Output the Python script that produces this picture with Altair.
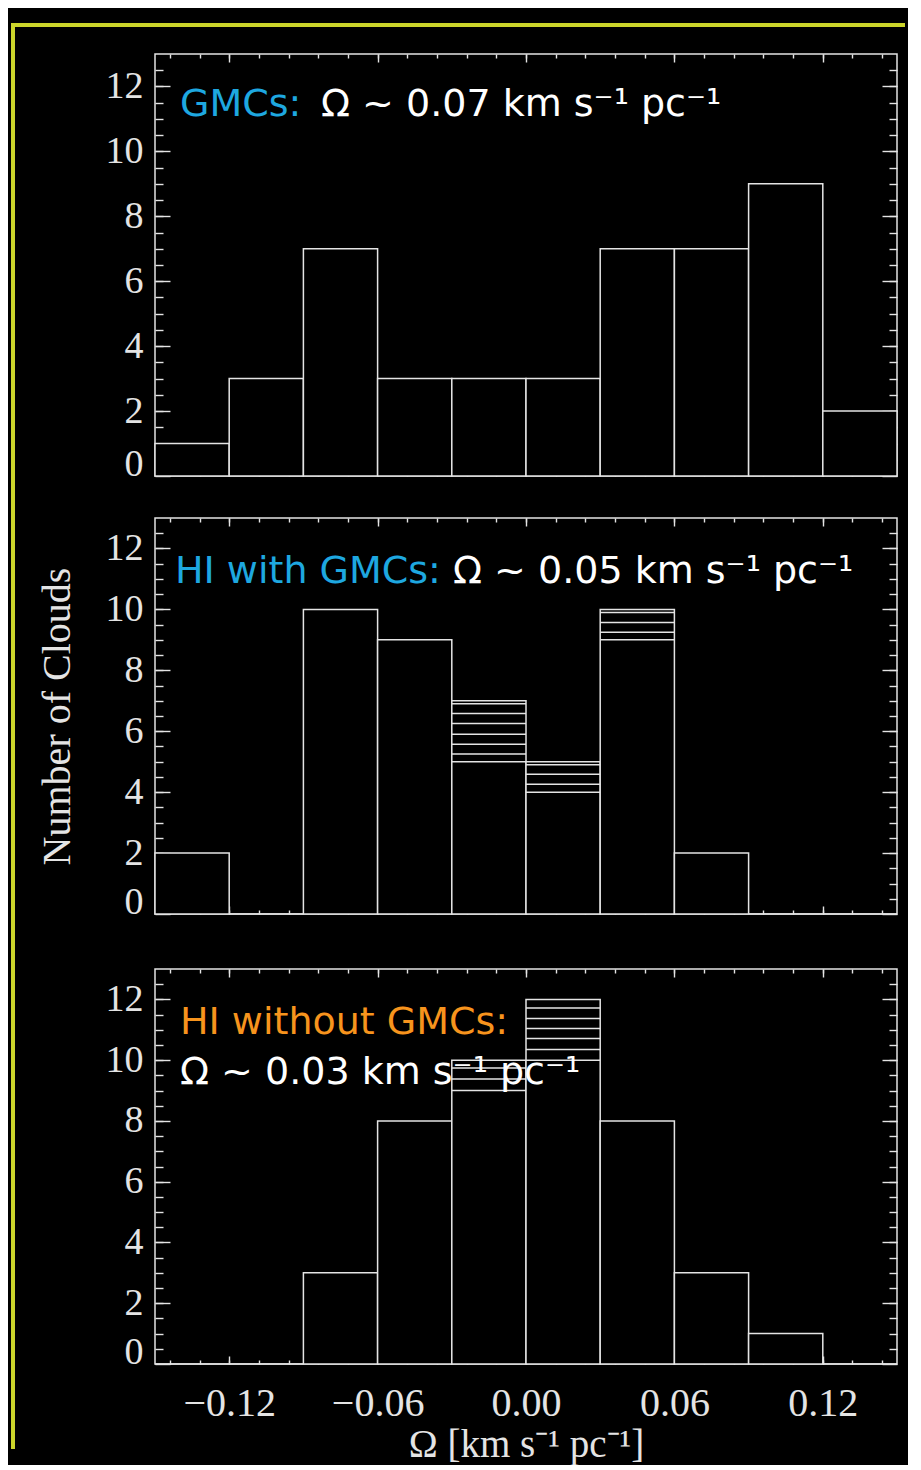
import altair as alt
import pandas as pd

# ---------------- data ----------------
bin_lo = [-0.15, -0.12, -0.09, -0.06, -0.03, 0.00, 0.03, 0.06, 0.09, 0.12]
bin_hi = [-0.12, -0.09, -0.06, -0.03, 0.00, 0.03, 0.06, 0.09, 0.12, 0.15]

gmc_total = [1, 3, 7, 3, 3, 3, 7, 7, 9, 2]
hiw_total = [2, 0, 10, 9, 7, 5, 10, 2, 0, 0]
hio_total = [0, 0, 3, 8, 10, 12, 8, 3, 1, 0]

# hatched (uncertain) parts: horizontal lines inside bins
hiw_hatch_lo = [-0.03, -0.03, -0.03, -0.03, -0.03, -0.03, -0.03,
                0.00, 0.00, 0.00, 0.00,
                0.03, 0.03, 0.03, 0.03]
hiw_hatch_hi = [0.00, 0.00, 0.00, 0.00, 0.00, 0.00, 0.00,
                0.03, 0.03, 0.03, 0.03,
                0.06, 0.06, 0.06, 0.06]
hiw_hatch_y = [6.9, 6.58, 6.25, 5.9, 5.57, 5.25, 5.0,
               4.9, 4.59, 4.26, 4.0,
               9.9, 9.57, 9.25, 9.0]

hio_hatch_lo = [-0.03, -0.03, -0.03, 0.00, 0.00, 0.00, 0.00, 0.00, 0.00]
hio_hatch_hi = [0.00, 0.00, 0.00, 0.03, 0.03, 0.03, 0.03, 0.03, 0.03]
hio_hatch_y = [9.74, 9.38, 9.0, 11.72, 11.37, 11.04, 10.71, 10.35, 10.0]

x_major = [-0.12, -0.06, 0.00, 0.06, 0.12]
x_minor = [-0.144, -0.132, -0.12, -0.108, -0.096, -0.084, -0.072, -0.06,
           -0.048, -0.036, -0.024, -0.012, 0.0, 0.012, 0.024, 0.036, 0.048,
           0.06, 0.072, 0.084, 0.096, 0.108, 0.12, 0.132, 0.144]
y_major = [0, 2, 4, 6, 8, 10, 12]
y_minor = [0.5, 1, 1.5, 2, 2.5, 3, 3.5, 4, 4.5, 5, 5.5, 6, 6.5, 7, 7.5, 8,
           8.5, 9, 9.5, 10, 10.5, 11, 11.5, 12, 12.5]

label_colored = ["GMCs:", "HI with GMCs:", "HI without GMCs:"]
label_white = ["\u03a9 ~ 0.07 km s\u207b\u00b9 pc\u207b\u00b9",
               "\u03a9 ~ 0.05 km s\u207b\u00b9 pc\u207b\u00b9",
               "\u03a9 ~ 0.03 km s\u207b\u00b9 pc\u207b\u00b9"]
x_title = "\u03a9 [km s\u207b\u00b9 pc\u207b\u00b9]"
y_title = "Number of Clouds"

# ---------------- style ----------------
LINE = "#e4e4e4"
BLUE = "#1ea8e0"
ORANGE = "#f7941d"
YELLOW = "#ccd52a"
SERIF = "Liberation Serif"
SANS = "DejaVu Sans"
W = 742

xs = alt.Scale(domain=[-0.15, 0.15], nice=False, zero=False)
ys = alt.Scale(domain=[0, 13], nice=False, zero=True)


def xaxis(orient, values, size, labels=False, title=None):
    kw = dict(orient=orient, values=values, tickSize=size, offset=-size,
              domain=False, grid=False, labels=labels, tickColor=LINE,
              tickWidth=1.4, title=title)
    if labels:
        kw.update(labelFont=SERIF, labelFontSize=40, labelColor=LINE,
                  labelPadding=19, format=".2f", labelFlush=False)
    if title:
        kw.update(titleFont=SERIF, titleFontSize=39, titleFontWeight="normal",
                  titleColor=LINE, titlePadding=2)
    return alt.Axis(**kw)


def yaxis(orient, values, size, labels=False, title=None):
    kw = dict(orient=orient, values=values, tickSize=size, offset=-size,
              domain=False, grid=False, labels=labels, tickColor=LINE,
              tickWidth=1.4, title=title)
    if labels:
        kw.update(labelFont=SERIF, labelFontSize=38, labelColor=LINE,
                  labelPadding=12, format="d", labelFlush=True,
                  labelFlushOffset=7)
    if title:
        kw.update(titleFont=SERIF, titleFontSize=40, titleFontWeight="normal",
                  titleColor=LINE, titlePadding=28)
    return alt.Axis(**kw)


def panel(total, hatch_lo, hatch_hi, hatch_y, height, texts,
          x_labels=False, ytitle=None, frame=False):
    bars = pd.DataFrame({"lo": bin_lo, "hi": bin_hi, "total": total,
                         "base": [0] * len(bin_lo)})
    one = pd.DataFrame({"k": [0]})

    bar_layer = alt.Chart(bars).mark_rect(
        fill="black", stroke=LINE, strokeWidth=1.5
    ).encode(
        x=alt.X("lo:Q", scale=xs,
                axis=xaxis("bottom", x_major, 8, labels=x_labels,
                           title=x_title if x_labels else None)),
        x2="hi:Q",
        y=alt.Y("total:Q", scale=ys,
                axis=yaxis("left", y_major, 15, labels=True, title=ytitle)),
        y2="base:Q",
    )
    layers = [bar_layer]

    if hatch_y:
        hatch = pd.DataFrame({"lo": hatch_lo, "hi": hatch_hi, "y": hatch_y})
        layers.append(alt.Chart(hatch).mark_rule(
            color=LINE, strokeWidth=1.5
        ).encode(
            x=alt.X("lo:Q", scale=xs, axis=None), x2="hi:Q",
            y=alt.Y("y:Q", scale=ys, axis=None)))

    # extra tick sets (minor ticks and mirrored ticks), drawn inside the frame
    for xo, yo, xv, yv, xsz, ysz in [
        ("bottom", "left", x_minor, y_minor, 4, 8),
        ("top", "right", x_major, y_major, 8, 15),
        ("top", "right", x_minor, y_minor, 4, 8),
    ]:
        layers.append(alt.Chart(bars).mark_point(opacity=0, size=1).encode(
            x=alt.X("lo:Q", scale=xs, axis=xaxis(xo, xv, xsz)),
            y=alt.Y("total:Q", scale=ys, axis=yaxis(yo, yv, ysz))))

    # annotations
    for txt, col, px, py in texts:
        layers.append(alt.Chart(one).mark_text(
            font=SANS, fontSize=38, align="left", baseline="alphabetic",
            color=col
        ).encode(x=alt.value(px), y=alt.value(py), text=alt.value(txt)))

    if frame:
        layers.append(alt.Chart(one).mark_rule(
            color=YELLOW, strokeWidth=4
        ).encode(x=alt.value(-142), y=alt.value(-31), y2=alt.value(1395)))
        layers.append(alt.Chart(one).mark_rule(
            color=YELLOW, strokeWidth=4
        ).encode(y=alt.value(-29), x=alt.value(-144), x2=alt.value(750)))

    return alt.layer(*layers).resolve_axis(
        x="independent", y="independent"
    ).properties(width=W, height=height)


def spacer(h):
    one = pd.DataFrame({"k": [0]})
    return alt.Chart(one).mark_point(opacity=0, size=1).encode(
        x=alt.value(0), y=alt.value(0)
    ).properties(width=W, height=h,
                 view=alt.ViewBackground(stroke="transparent"))


top = panel(gmc_total, [], [], [], 422,
            [(label_colored[0], BLUE, 25, 62),
             (label_white[0], "white", 166, 62)],
            frame=True)
mid = panel(hiw_total, hiw_hatch_lo, hiw_hatch_hi, hiw_hatch_y, 396,
            [(label_colored[1], BLUE, 20, 65),
             (label_white[1], "white", 298, 65)],
            ytitle=y_title)
bot = panel(hio_total, hio_hatch_lo, hio_hatch_hi, hio_hatch_y, 395,
            [(label_colored[2], ORANGE, 25, 65),
             (label_white[2], "white", 25, 115)],
            x_labels=True)

chart = alt.vconcat(top, spacer(42), mid, spacer(55), bot,
                    spacing=0, bounds="flush").properties(
    padding={"left": 0, "top": 12, "right": 0, "bottom": 0}
).configure(
    background="#000000"
).configure_view(
    stroke=LINE, strokeWidth=1.5
)

chart.save("out.html", embed_options={"renderer": "svg", "actions": False})
